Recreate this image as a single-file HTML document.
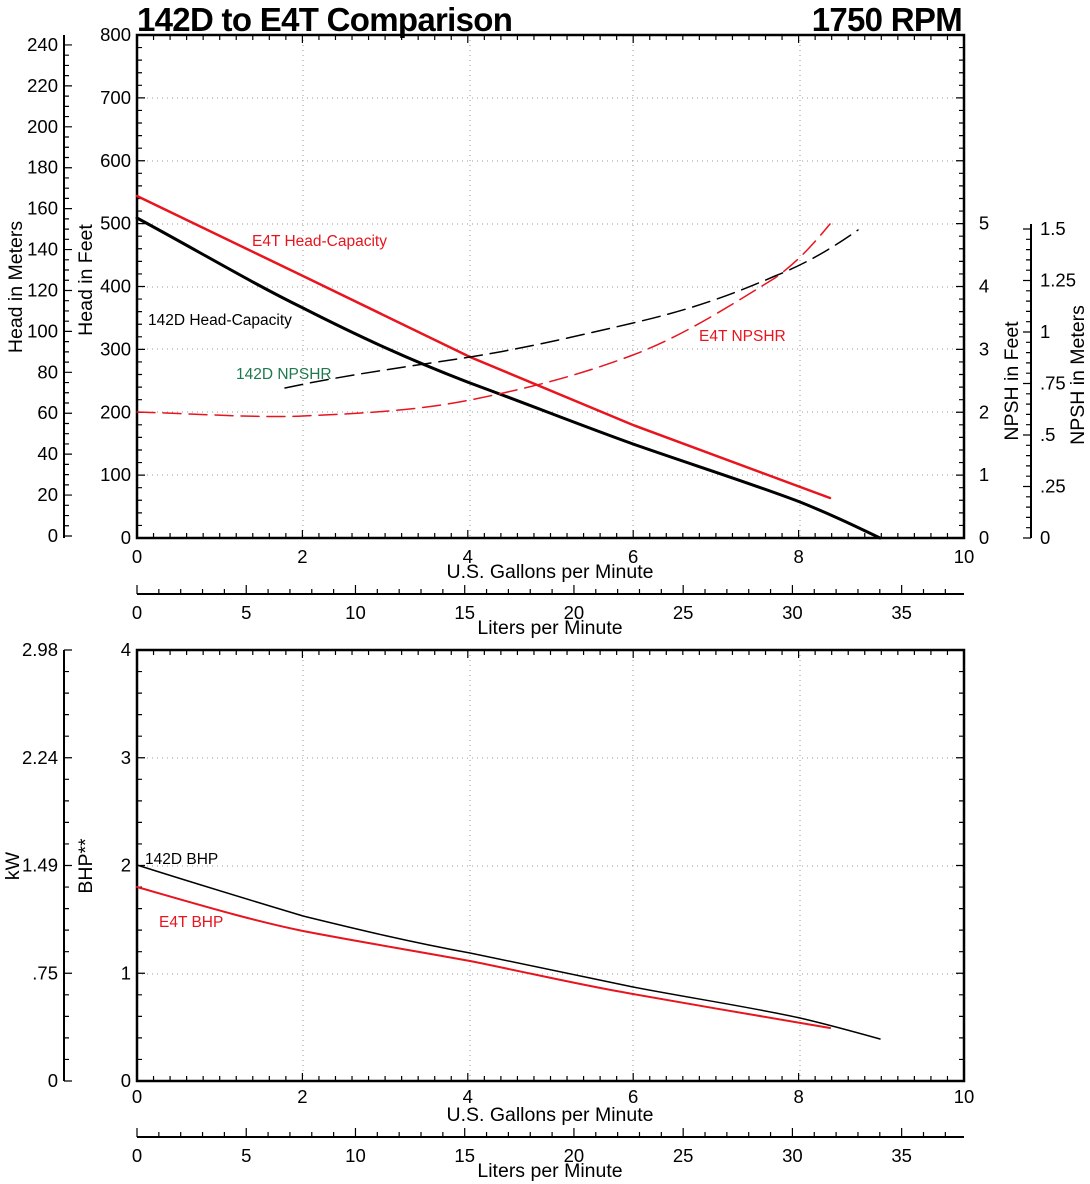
<!DOCTYPE html>
<html><head><meta charset="utf-8"><style>
html,body{margin:0;padding:0;background:#fff}
svg{display:block}
text{font-family:"Liberation Sans",sans-serif;fill:#000}
</style></head><body>
<svg width="1090" height="1184" viewBox="0 0 1090 1184" xmlns="http://www.w3.org/2000/svg">
<g stroke="#999" stroke-width="1" stroke-dasharray="1,4" fill="none">
<path d="M303 35V538M470 35V538M633 35V538M800 35V538"/>
<path d="M137 98H964M137 161H964M137 224H964M137 287H964M137 349H964M137 412H964M137 475H964"/>
<path d="M303 650V1081M470 650V1081M633 650V1081M800 650V1081"/>
<path d="M137 758H964M137 866H964M137 974H964"/>
</g>
<g stroke="#000" fill="none">
<rect x="137" y="35" width="827" height="503" stroke-width="2.5"/>
<rect x="137" y="650" width="827" height="431" stroke-width="2.5"/>
<path d="M64 35V538M1031 224V538M137 594H964M64 650V1081M137 1137H964" stroke-width="2"/>
</g>
<g id="ticks" stroke="#000" stroke-width="1.2"></g>

<g fill="none" stroke-linecap="round">
<path d="M137 218 C200 252 250 282 303 308 C360 337 410 360 470 383 C530 405 580 425 633 444 C690 464 750 483 800 502 C830 514 855 526 880 538" stroke="#000" stroke-width="3"/>
<path d="M137 196 L303 276 L470 357 L633 425 L830 498" stroke="#e8141e" stroke-width="2.5"/>
<path d="M285 388 C350 374 420 365 470 357 C520 349 560 340 633 323 C680 312 720 300 775 276 C810 262 835 246 858 230" stroke="#000" stroke-width="1.5" stroke-dasharray="18,8"/>
<path d="M137 412 C200 414 260 418 303 416 C370 413 420 410 470 400 C530 388 580 375 633 355 C680 337 720 312 775 278 C800 260 815 242 830 224" stroke="#e8141e" stroke-width="1.5" stroke-dasharray="18,8"/>
<path d="M137 865 C200 885 250 900 303 916 C360 930 410 942 470 953 C530 965 580 976 633 987 C690 998 750 1007 800 1018 C830 1025 855 1032 880 1039" stroke="#000" stroke-width="1.5"/>
<path d="M137 887 C200 905 250 920 303 931 C360 942 410 950 470 961 C530 973 580 985 633 994 C700 1006 760 1016 830 1028" stroke="#e8141e" stroke-width="2"/>
</g>

<text x="137" y="31" font-size="33" font-weight="bold" letter-spacing="-0.7">142D to E4T Comparison</text>
<text x="962" y="31" font-size="33" font-weight="bold" text-anchor="end" letter-spacing="-0.7">1750 RPM</text>

<g font-size="18.5" text-anchor="end" id="lbl"></g>
<g font-size="15.5">
<text x="252" y="246" style="fill:#e8141e">E4T Head-Capacity</text>
<text x="148" y="325">142D Head-Capacity</text>
<text x="236" y="379" style="fill:#1e7a4e">142D NPSHR</text>
<text x="699" y="341" style="fill:#e8141e">E4T NPSHR</text>
<text x="145" y="864">142D BHP</text>
<text x="159" y="927" style="fill:#e8141e">E4T BHP</text>
</g>
<g font-size="19.5" text-anchor="middle">
<text x="550" y="578">U.S. Gallons per Minute</text>
<text x="550" y="634">Liters per Minute</text>
<text x="550" y="1121">U.S. Gallons per Minute</text>
<text x="550" y="1177">Liters per Minute</text>
<text transform="translate(22,287) rotate(-90)">Head in Meters</text>
<text transform="translate(92,280) rotate(-90)">Head in Feet</text>
<text transform="translate(1018,381) rotate(-90)">NPSH in Feet</text>
<text transform="translate(1084,375) rotate(-90)">NPSH in Meters</text>
<text transform="translate(19,866) rotate(-90)">kW</text>
<text transform="translate(92,866) rotate(-90)">BHP**</text>
</g>
</svg>
<script>
(function(){
var ns="http://www.w3.org/2000/svg",T=document.getElementById('ticks'),L=document.getElementById('lbl'),d="";
function ln(x1,y1,x2,y2){d+="M"+x1+" "+y1+"L"+x2+" "+y2;}
function tx(x,y,s,a){var t=document.createElementNS(ns,'text');t.setAttribute('x',x);t.setAttribute('y',y);if(a)t.setAttribute('text-anchor',a);t.textContent=s;L.appendChild(t);}
var X0=137,GX=82.7;
for(var i=0;i<=50;i++){var x=X0+i*GX/5,len=i%10==0?8:5;
 ln(x,538,x,538-len);ln(x,35,x,35+len);ln(x,650,x,650+len);ln(x,1081,x,1081-len);}
for(var g=0;g<=10;g+=2){tx(X0+g*GX,563,g,'middle');tx(X0+g*GX,1103,g,'middle');}
var FY=0.62875;
for(var f=0;f<=800;f+=20){var y=538-f*FY,len=f%100==0?8:5;ln(137,y,137+len,y);}
for(f=0;f<=800;f+=100)tx(131,538-f*FY+6,f);
for(var n=0;n<=8;n+=0.2){var y=538-n*62.875,len=Math.abs(n-Math.round(n))<0.01?8:5;ln(964,y,964-len,y);}
for(n=0;n<=5;n++)tx(984,538-n*62.875+6,n,'middle');
for(var m=0;m<=240;m+=5){var y=536-m*2.046,len=m%20==0?8:5;ln(64,y,64+len,y);}
for(m=0;m<=240;m+=20)tx(58,536-m*2.046+6,m);
for(var k=0;k<=30;k++){var y=538-k*10.3,len=k%5==0?8:5;ln(1031,y,1031-len,y);}
var nl=["0",".25",".5",".75","1","1.25","1.5"];
for(k=0;k<=6;k++)tx(1040,538-k*51.5+6,nl[k],'start');
for(var l=0;l<=37;l++){var x=X0+l*GX/3.7854,len=l%5==0?9:5;ln(x,594,x,594-len);ln(x,1137,x,1137-len);}
for(l=0;l<=35;l+=5){tx(X0+l*GX/3.7854,619,l,'middle');tx(X0+l*GX/3.7854,1162,l,'middle');}
for(var b=0;b<=20;b++){var y=1081-b*21.55,len=b%5==0?8:5;ln(137,y,137+len,y);ln(964,y,964-len,y);ln(64,y,64+len,y);}
for(b=0;b<=4;b++)tx(131,1081-b*107.75+6,b);
var kl=["0",".75","1.49","2.24","2.98"];
for(b=0;b<=4;b++)tx(58,1081-b*107.75+6,kl[b]);
var p=document.createElementNS(ns,'path');p.setAttribute('d',d);p.setAttribute('fill','none');T.appendChild(p);
})();
</script>
</body></html>
